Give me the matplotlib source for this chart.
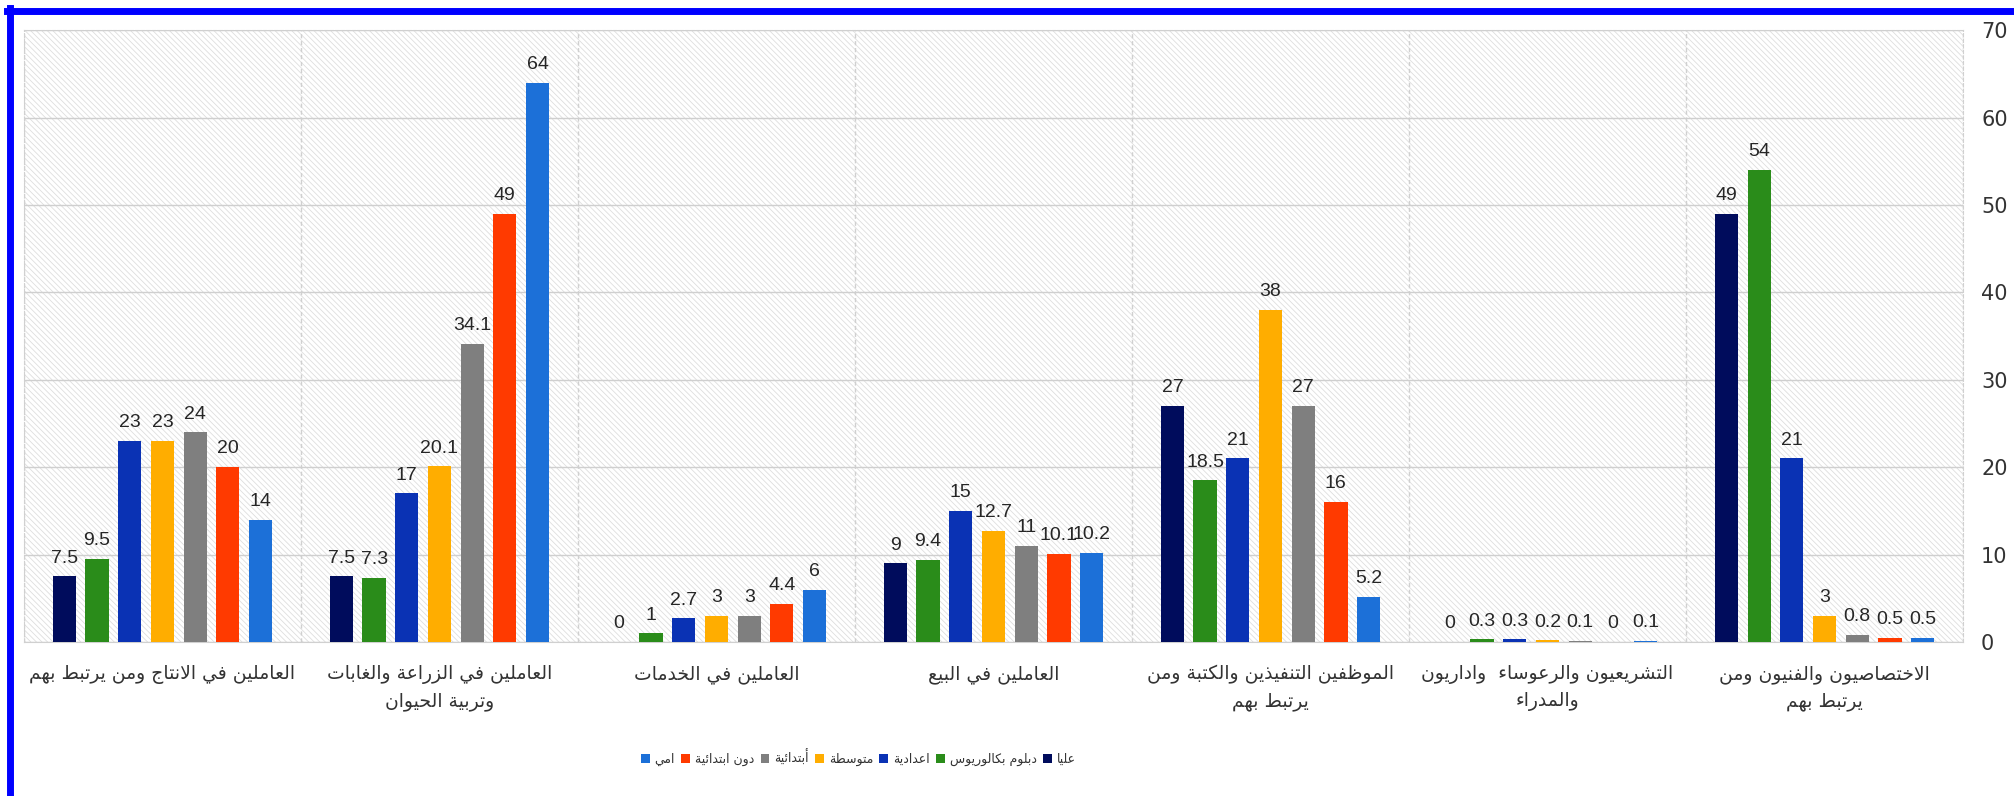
import numpy as np
import matplotlib.pyplot as plt
from matplotlib.patches import Rectangle
from matplotlib.lines import Line2D


# arabic letters -> (isolated presentation form, number of forms)
FORMS = {'ء': (0xFE80, 1), 'آ': (0xFE81, 2), 'أ': (0xFE83, 2), 'ؤ': (0xFE85, 2),
         'إ': (0xFE87, 2), 'ئ': (0xFE89, 4), 'ا': (0xFE8D, 2), 'ب': (0xFE8F, 4),
         'ة': (0xFE93, 2), 'ت': (0xFE95, 4), 'ث': (0xFE99, 4), 'ج': (0xFE9D, 4),
         'ح': (0xFEA1, 4), 'خ': (0xFEA5, 4), 'د': (0xFEA9, 2), 'ذ': (0xFEAB, 2),
         'ر': (0xFEAD, 2), 'ز': (0xFEAF, 2), 'س': (0xFEB1, 4), 'ش': (0xFEB5, 4),
         'ص': (0xFEB9, 4), 'ض': (0xFEBD, 4), 'ط': (0xFEC1, 4), 'ظ': (0xFEC5, 4),
         'ع': (0xFEC9, 4), 'غ': (0xFECD, 4), 'ف': (0xFED1, 4), 'ق': (0xFED5, 4),
         'ك': (0xFED9, 4), 'ل': (0xFEDD, 4), 'م': (0xFEE1, 4), 'ن': (0xFEE5, 4),
         'ه': (0xFEE9, 4), 'و': (0xFEED, 2), 'ى': (0xFEEF, 2), 'ي': (0xFEF1, 4)}
LAM_ALEF = {'ا': (0xFEFB, 0xFEFC), 'أ': (0xFEF7, 0xFEF8),
            'إ': (0xFEF9, 0xFEFA), 'آ': (0xFEF5, 0xFEF6)}


def shape_line(s):
    units = []
    i = 0
    while i < len(s):
        if s[i] == 'ل' and i + 1 < len(s) and s[i + 1] in LAM_ALEF:
            units.append(('LA', s[i + 1]))
            i += 2
        else:
            units.append((s[i], None))
            i += 1
    res = []
    for k, (c, extra) in enumerate(units):
        prev = units[k - 1][0] if k > 0 else None
        nxt = units[k + 1][0] if k + 1 < len(units) else None
        joins_prev = prev in FORMS and FORMS[prev][1] == 4
        if c == 'LA':
            iso, fin = LAM_ALEF[extra]
            res.append(chr(fin if joins_prev else iso))
            continue
        if c not in FORMS:
            res.append(c)
            continue
        base, nf = FORMS[c]
        joins_next = nf == 4 and (nxt == 'LA' or nxt in FORMS)
        if nf == 1:
            res.append(chr(base))
        elif joins_prev and joins_next:
            res.append(chr(base + 3))
        elif joins_prev:
            res.append(chr(base + 1))
        elif joins_next:
            res.append(chr(base + 2))
        else:
            res.append(chr(base))
    return ''.join(reversed(res))


def ar(text):
    return '\n'.join(shape_line(l) for l in text.split('\n'))


# categories, right to left as in the chart
categories = ["الاختصاصيون والفنيون ومن\nيرتبط بهم",
              "التشريعيون والرعوساء  واداريون\nوالمدراء",
              "الموظفين التنفيذين والكتبة ومن\nيرتبط بهم",
              "العاملين في البيع",
              "العاملين في الخدمات",
              "العاملين في الزراعة والغابات\nوتربية الحيوان",
              "العاملين في الانتاج ومن يرتبط بهم"]

series_names = ["عليا", "دبلوم بكالوريوس", "اعدادية", "متوسطة",
                "أبتدائية", "دون ابتدائية", "امي"]

olya = [49, 0, 27, 9, 0, 7.5, 7.5]
diploma = [54, 0.3, 18.5, 9.4, 1, 7.3, 9.5]
idadiya = [21, 0.3, 21, 15, 2.7, 17, 23]
mutawasita = [3, 0.2, 38, 12.7, 3, 20.1, 23]
ibtidaiya = [0.8, 0.1, 27, 11, 3, 34.1, 24]
dun_ibtidaiya = [0.5, 0, 16, 10.1, 4.4, 49, 20]
ummi = [0.5, 0.1, 5.2, 10.2, 6, 64, 14]

values = [olya, diploma, idadiya, mutawasita, ibtidaiya, dun_ibtidaiya, ummi]
colors = ["#000c5c", "#2a8c1a", "#0a32b4", "#ffad00", "#7f7f7f", "#ff3a00", "#1c70d8"]

plt.rcParams['hatch.linewidth'] = 0.6

fig = plt.figure(figsize=(20.15, 7.96), dpi=100)
ax = fig.add_axes([0.0119, 0.1935, 0.9623, 0.7685])

x = np.arange(len(categories))
slot = 0.118
bw = 0.084

for j, vals in enumerate(values):
    pos = x + (3 - j) * slot
    ax.bar(pos, vals, width=bw, color=colors[j], label=ar(series_names[j]), zorder=3)
    for p, v in zip(pos, vals):
        ax.annotate(f"{v:g}", (p, v), xytext=(0, 7), textcoords="offset points",
                    ha="center", va="bottom", fontsize=14, color="#262626",
                    family="Liberation Sans", zorder=4)

ax.set_xlim(len(categories) - 0.5, -0.5)
ax.set_ylim(0, 70)

# hatched background
bg = Rectangle((0, 0), 1, 1, transform=ax.transAxes, facecolor="white",
               edgecolor="#dedede", hatch="\\\\\\\\\\\\", linewidth=0, zorder=0)
ax.add_patch(bg)

ax.set_yticks(np.arange(0, 71, 10))
ax.yaxis.tick_right()
ax.tick_params(axis="y", length=0, pad=13, labelsize=15, labelcolor="#333333")
ax.set_xticks([])
ax.grid(axis="y", color="#cfcfcf", linewidth=1, zorder=1)
for b in np.arange(-0.5, len(categories), 1):
    ax.axvline(b, color="#d0d0d0", linewidth=1, linestyle=(0, (3, 2)), zorder=1)

for s in ["top", "left", "right"]:
    ax.spines[s].set_color("#d0d0d0")
    ax.spines[s].set_linestyle((0, (3, 2)))
ax.spines["bottom"].set_color("#d0d0d0")

for i, c in enumerate(categories):
    ax.text(x[i], -0.038, ar(c), transform=ax.get_xaxis_transform(),
            ha="center", va="top", fontsize=13.5, color="#333333",
            family="DejaVu Sans", linespacing=1.45)

handles, labels = ax.get_legend_handles_labels()
fig.legend(handles[::-1], labels[::-1], loc="center", bbox_to_anchor=(0.426, 0.048),
           ncol=7, frameon=False, fontsize=9, handlelength=0.7, handleheight=0.7,
           handletextpad=0.4, columnspacing=0.5, labelcolor="#333333")

# blue frame on left and top
fig.add_artist(Line2D([0.0050, 0.0050], [0, 0.990], transform=fig.transFigure,
                      color="#0000ff", linewidth=5))
fig.add_artist(Line2D([0.0035, 1.0], [0.9865, 0.9865], transform=fig.transFigure,
                      color="#0000ff", linewidth=5))

plt.savefig("out.png", dpi=100)
plt.close()
